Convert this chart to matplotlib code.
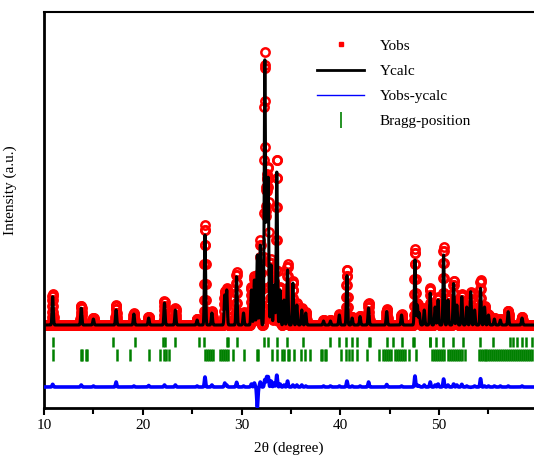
import numpy as np
import matplotlib.pyplot as plt
from matplotlib.lines import Line2D

plt.rcParams['font.family'] = ['Liberation Serif', 'DejaVu Serif']

# -------------------------------
# Reflections: position (deg), calc height, obs height
peak_pos = [10.88, 13.77, 15.0, 17.3, 19.1, 20.6, 22.2, 23.3, 25.5, 26.3,
            27.0, 28.3, 28.5, 29.5, 30.2, 31.0, 31.3, 31.6, 31.9, 32.36,
            32.55, 32.7, 33.0, 33.3, 33.57, 33.9, 34.3, 34.66, 35.2, 35.6,
            36.1, 36.5, 38.3, 39.0, 39.9, 40.67, 41.2, 42.0, 42.86, 44.7,
            46.2, 47.56, 47.8, 48.0, 48.5, 49.1, 49.6, 49.9, 50.46, 50.9,
            51.47, 51.8, 52.3, 52.8, 53.2, 53.6, 54.2, 54.6, 55.0, 55.6,
            56.2, 57.0, 58.4]
calc_h = [283, 170, 60, 150, 110, 70, 220, 150, 50, 900,
          120, 300, 350, 483, 120, 350, 450, 700, 800, 2643,
          1320, 1420, 600, 400, 1550, 350, 250, 550, 420, 200,
          150, 120, 40, 40, 100, 500, 70, 85, 170, 135,
          100, 650, 200, 120, 150, 320, 180, 250, 700, 250,
          420, 200, 283, 180, 333, 150, 367, 180, 100, 60,
          50, 133, 70]
obs_h = [310, 190, 70, 200, 120, 85, 240, 170, 60, 1000,
         140, 340, 370, 530, 130, 380, 490, 500, 850, 2717,
         1420, 1520, 660, 440, 1670, 380, 270, 610, 440, 220,
         170, 130, 50, 50, 110, 560, 80, 95, 220, 160,
         110, 760, 220, 130, 170, 370, 200, 280, 780, 270,
         450, 220, 310, 190, 330, 160, 450, 190, 110, 70,
         60, 143, 80]

# Bragg reflection positions, two phases
bragg_1 = [10.91, 16.99, 19.19, 22.06, 22.23, 23.25, 25.70, 26.21, 28.48, 28.64,
           29.49, 32.26, 32.70, 33.55, 34.58, 36.18, 38.95, 39.89, 40.57, 41.14,
           41.71, 42.95, 43.05, 44.69, 45.36, 46.21, 47.33, 47.45, 49.03, 49.13,
           49.65, 50.43, 51.44, 52.39, 54.14, 55.49, 57.18, 57.5, 57.86, 58.37,
           58.8, 59.38]
bragg_2 = [10.91, 13.75, 13.85, 14.25, 14.35, 17.40, 18.75, 20.61, 21.79, 22.13,
           22.40, 22.66, 26.3, 26.5, 26.7, 26.9, 27.1, 27.8, 28.0, 28.2,
           28.4, 28.6, 29.09, 30.23, 31.6, 31.7, 33.10, 33.61, 34.08, 34.25,
           34.7, 34.78, 35.30, 35.98, 36.41, 36.92, 38.07, 38.13, 38.5, 38.58,
           40.03, 40.54, 40.87, 41.14, 41.71, 42.73, 43.91, 44.3, 44.5, 44.7,
           44.9, 45.1, 45.5, 45.7, 45.9, 46.1, 46.3, 46.5, 46.98, 47.66,
           49.3, 49.5, 49.7, 49.9, 50.1, 50.3, 50.5, 50.9, 51.1, 51.3,
           51.5, 51.7, 51.9, 52.1, 52.3, 52.6, 54.0, 54.2, 54.4, 54.6,
           54.8, 55.0, 55.2, 55.4, 55.6, 55.8, 56.0, 56.2, 56.4, 56.6,
           56.8, 57.0, 57.2, 57.4, 57.6, 57.8, 58.0, 58.2, 58.4, 58.6,
           58.8, 59.0, 59.2, 59.4]

x_ticks = [10, 20, 30, 40, 50]

# -------------------------------
# Build profiles from the reflection list
two_theta = np.arange(10.0, 59.7, 0.02)
sigma = 0.06


def profile(heights):
    y = np.zeros_like(two_theta)
    for p, h in zip(peak_pos, heights):
        y += h * np.exp(-0.5 * ((two_theta - p) / sigma) ** 2)
    return y


y_calc = profile(calc_h)
y_obs = profile(obs_h)
diff_offset = -620
y_diff = y_obs - y_calc + diff_offset

# -------------------------------
fig = plt.figure(figsize=(5.34, 4.58), dpi=100)
ax = fig.add_axes([44 / 534, 50 / 458, 490 / 534, 396 / 458])

ax.plot(two_theta, y_obs, 'o', ms=6, mfc='none', mec='red', mew=1.8, zorder=2)
ax.plot(two_theta, y_calc, color='black', lw=2.2, zorder=3)
ax.plot(two_theta, y_diff, color='blue', lw=2.6, zorder=3)
ax.vlines(bragg_1, -120, -220, color='green', lw=1.8)
ax.vlines(bragg_2, -240, -360, color='green', lw=1.8)

ax.set_xlim(10, 59.61)
ax.set_ylim(-830, 3130)
ax.set_xticks(x_ticks)
ax.set_xticks([15, 25, 35, 45, 55], minor=True)
ax.set_yticks([])
ax.tick_params(axis='x', which='major', direction='out', length=5, width=1.5,
               labelsize=11, pad=3)
ax.tick_params(axis='x', which='minor', direction='out', length=4, width=1.5)
ax.spines['right'].set_visible(False)
ax.spines['left'].set_linewidth(2)
ax.spines['bottom'].set_linewidth(2)
ax.spines['top'].set_linewidth(1.5)

ax.set_xlabel('2θ (degree)', fontsize=11)
ax.xaxis.set_label_coords(0.5, -0.085)
ax.set_ylabel('Intensity (a.u.)', fontsize=11)
ax.yaxis.set_label_coords(-0.055, 0.55)

handles = [
    Line2D([], [], ls='none', marker='s', ms=3.5, color='red'),
    Line2D([], [], color='black', lw=2),
    Line2D([], [], color='blue', lw=1),
    Line2D([], [], ls='none', marker='|', ms=11, mew=1.2, color='green'),
]
labels = ['Yobs', 'Ycalc', 'Yobs-ycalc', 'Bragg-position']
ax.legend(handles, labels, loc='upper left', bbox_to_anchor=(317 / 534, 1 - 39 / 458),
          bbox_transform=fig.transFigure, frameon=False, fontsize=11,
          handlelength=3.1, handletextpad=1.0, labelspacing=0.75,
          borderpad=0, borderaxespad=0)

fig.savefig('out.png', dpi=100)
